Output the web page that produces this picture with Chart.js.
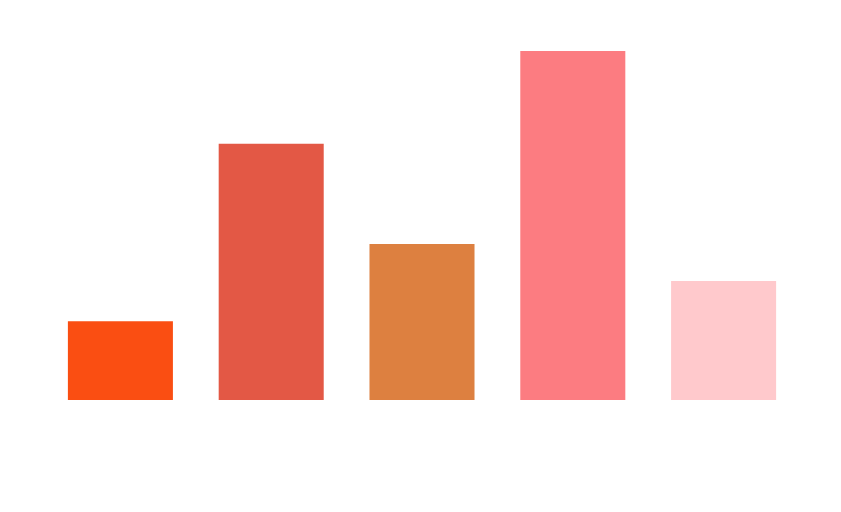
<!DOCTYPE html>
<html>
<head>
<meta charset="utf-8">
<script src="https://cdn.jsdelivr.net/npm/chart.js@4/dist/chart.umd.min.js"></script>
<style>
  html, body { margin: 0; padding: 0; background: #ffffff; }
  #c { display: block; }
</style>
</head>
<body>
<canvas id="c" width="841" height="512"></canvas>
<script>
const categories = ["1", "2", "3", "4", "5"];
const values = [22.6, 73.4, 44.7, 100, 34.1];
const barColors = ["#FA4E12", "#E35845", "#DD8040", "#FC7C81", "#FFC9CC"];

new Chart(document.getElementById("c"), {
  type: "bar",
  data: {
    labels: categories,
    datasets: [{
      data: values,
      backgroundColor: barColors,
      borderWidth: 0,
      barPercentage: 0.6965,
      categoryPercentage: 1
    }]
  },
  options: {
    responsive: false,
    animation: false,
    devicePixelRatio: 1,
    layout: { padding: { left: 45, right: 42, top: 51, bottom: 112 } },
    plugins: { legend: { display: false }, tooltip: { enabled: false } },
    scales: {
      x: { display: false, offset: true, grid: { display: false } },
      y: { display: false, min: 0, max: 100, grid: { display: false } }
    }
  }
});
</script>
</body>
</html>
